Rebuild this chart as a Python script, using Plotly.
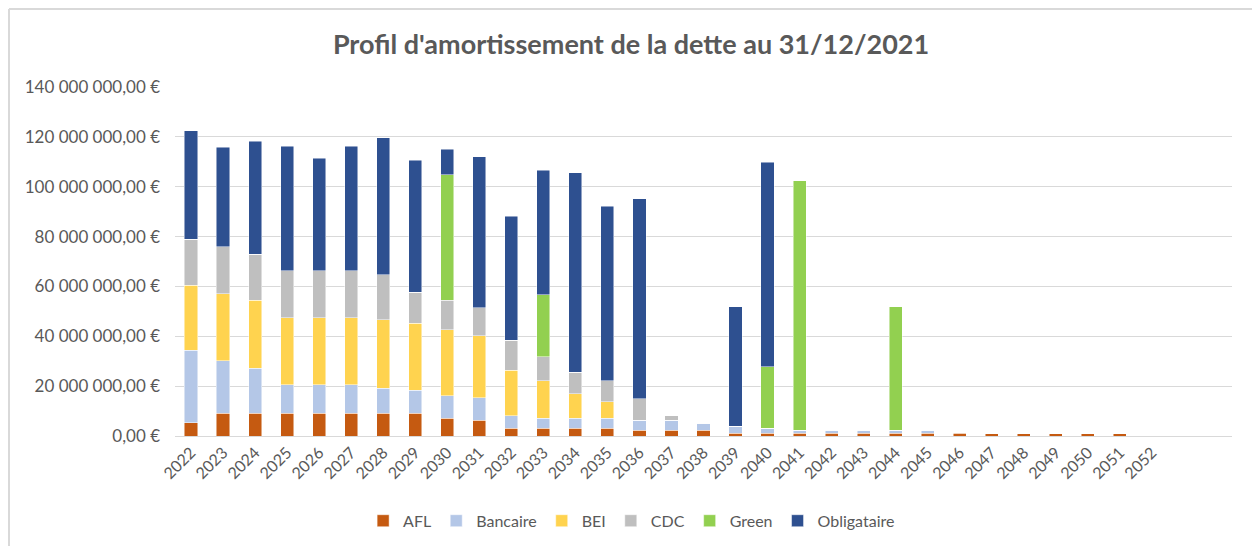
import plotly.graph_objects as go

years = [str(y) for y in range(2022, 2053)]

# values in millions of euros
afl = [5.4, 9.1, 9.1, 9.1, 9.1, 9.1, 9.1, 9.1, 7.1, 6.3, 3.2, 3.2, 3.2, 3.2, 2.4, 2.4,
       2.4, 1.2, 1.2, 1.2, 1.2, 1.2, 1.2, 1.2, 1.1, 0.9, 0.9, 0.9, 0.9, 0.9, 0]
bancaire = [29.0, 21.1, 18.1, 11.4, 11.4, 11.4, 10.1, 9.3, 9.0, 9.0, 5.0, 3.9, 3.9, 3.9, 3.9, 3.9,
            2.7, 2.7, 2.0, 1.1, 1.1, 1.1, 1.1, 1.1, 0.3, 0, 0, 0, 0, 0, 0]
bei = [26.0, 26.8, 27.3, 26.9, 26.9, 26.9, 27.4, 26.8, 26.6, 25.0, 18.2, 15.0, 9.9, 6.6, 0, 0,
       0, 0, 0, 0, 0, 0, 0, 0, 0, 0, 0, 0, 0, 0, 0]
cdc = [18.5, 19.0, 18.5, 18.8, 18.8, 18.8, 18.0, 12.5, 11.7, 11.2, 12.1, 9.7, 8.5, 8.4, 8.7, 1.9,
       0, 0, 0, 0, 0, 0, 0, 0, 0, 0, 0, 0, 0, 0, 0]
green = [0, 0, 0, 0, 0, 0, 0, 0, 50.5, 0, 0, 24.8, 0, 0, 0, 0,
         0, 0, 24.6, 100.1, 0, 0, 49.6, 0, 0, 0, 0, 0, 0, 0, 0]
obligataire = [43.6, 39.9, 45.2, 50.0, 45.3, 50.0, 55.0, 52.9, 10.1, 60.6, 49.7, 50.1, 80.2, 70.1, 80.1, 0,
               0, 48.0, 82.1, 0, 0, 0, 0, 0, 0, 0, 0, 0, 0, 0, 0]

series = [
    ("AFL", afl, "#C55A11"),
    ("Bancaire", bancaire, "#B4C7E7"),
    ("BEI", bei, "#FFD34F"),
    ("CDC", cdc, "#BFBFBF"),
    ("Green", green, "#92D050"),
    ("Obligataire", obligataire, "#2E5090"),
]

tick_vals = [0, 20e6, 40e6, 60e6, 80e6, 100e6, 120e6, 140e6]
tick_text = ["0,00 €", "20 000 000,00 €", "40 000 000,00 €", "60 000 000,00 €",
             "80 000 000,00 €", "100 000 000,00 €", "120 000 000,00 €", "140 000 000,00 €"]

FONT = "Lato"
GREY = "#595959"

fig = go.Figure()
for name, vals, color in series:
    fig.add_trace(go.Bar(
        x=years, y=[v * 1e6 for v in vals], name=name,
        marker=dict(color=color, line=dict(color="rgba(255,255,255,0.8)", width=0.6)),
    ))

fig.update_layout(
    width=1252, height=546,
    barmode="stack", bargap=0.59,
    paper_bgcolor="white", plot_bgcolor="white",
    margin=dict(l=175, r=20, t=87, b=110, autoexpand=False),
    font=dict(family=FONT, color=GREY, size=16),
    title=dict(text="<b>Profil d'amortissement de la dette au 31/12/2021</b>",
               x=0.504, xanchor="center", y=0.918, yanchor="middle",
               font=dict(family=FONT, size=27, color=GREY)),
    xaxis=dict(type="category", range=[-0.5, 32.5], tickangle=-45, automargin=False,
               tickfont=dict(size=16, color=GREY), showgrid=False,
               showline=True, linecolor="#D9D9D9", linewidth=1, ticks=""),
    yaxis=dict(range=[0, 140e6], tickvals=tick_vals, ticktext=tick_text, automargin=False,
               tickfont=dict(size=17, color=GREY), showgrid=True,
               gridcolor="#D9D9D9", gridwidth=1, zeroline=False, ticks="",
               ticklabelstandoff=14),
    legend=dict(orientation="h", x=0.432, xanchor="center", y=-0.243, yanchor="middle",
                font=dict(size=16, color=GREY), traceorder="normal", itemwidth=30),
    showlegend=True,
)

# chart frame lines (top and left)
fig.add_shape(type="line", xref="paper", yref="paper",
              x0=(9 - 175) / 1057, x1=(1252 - 175) / 1057,
              y0=(436 - 9) / 349, y1=(436 - 9) / 349,
              line=dict(color="#D9D9D9", width=2))
fig.add_shape(type="line", xref="paper", yref="paper",
              x0=(9 - 175) / 1057, x1=(9 - 175) / 1057,
              y0=(436 - 9) / 349, y1=(436 - 546) / 349,
              line=dict(color="#D9D9D9", width=2))

fig.write_html("out.html", config={"displayModeBar": False},
               post_script="document.body.style.margin='0';document.body.style.overflow='hidden';")
